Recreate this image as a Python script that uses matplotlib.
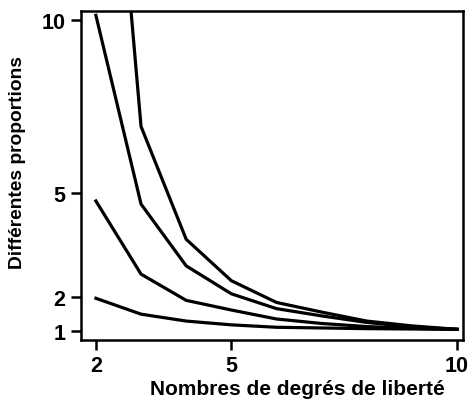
import matplotlib
matplotlib.use("Agg")
import matplotlib.pyplot as plt

# degrees of freedom and the four proportion curves
ddl = [2, 3, 4, 5, 6, 7, 8, 9, 10]
courbe_a = [22.0, 6.93, 3.66, 2.46, 1.83, 1.55, 1.29, 1.15, 1.05]
courbe_b = [10.15, 4.68, 2.89, 2.08, 1.65, 1.44, 1.25, 1.12, 1.05]
courbe_c = [4.77, 2.65, 1.89, 1.61, 1.35, 1.22, 1.13, 1.08, 1.05]
courbe_d = [1.95, 1.49, 1.29, 1.18, 1.11, 1.09, 1.07, 1.06, 1.05]

x_ticks = [2, 5, 10]
y_ticks = [1, 2, 5, 10]

plt.rcParams['font.family'] = ['Liberation Sans', 'DejaVu Sans']

fig = plt.figure(figsize=(4.69, 4.06), dpi=100)
ax = fig.add_axes([0.1727, 0.160, 0.8143, 0.810])

for serie in (courbe_a, courbe_b, courbe_c, courbe_d):
    ax.plot(ddl, serie, color='black', linewidth=2.3, solid_joinstyle='miter')

ax.set_xlim(1.67, 10.13)
ax.set_ylim(0.74, 10.27)
ax.set_xticks(x_ticks)
ax.set_yticks(y_ticks)
ax.set_xticklabels([str(t) for t in x_ticks], fontsize=15.5, fontweight='bold')
ax.set_yticklabels([str(t) for t in y_ticks], fontsize=15.5, fontweight='bold')
ax.tick_params(direction='out', length=7, width=1.8, pad=4)

for s in ax.spines.values():
    s.set_linewidth(1.8)

fig.text(0.633, 0.04, 'Nombres de degrés de liberté', ha='center', va='center',
         fontsize=15, fontweight='bold')
fig.text(0.038, 0.60, 'Différentes proportions', ha='center', va='center',
         rotation=90, fontsize=13.8, fontweight='bold')

fig.savefig('out.png', dpi=100)
